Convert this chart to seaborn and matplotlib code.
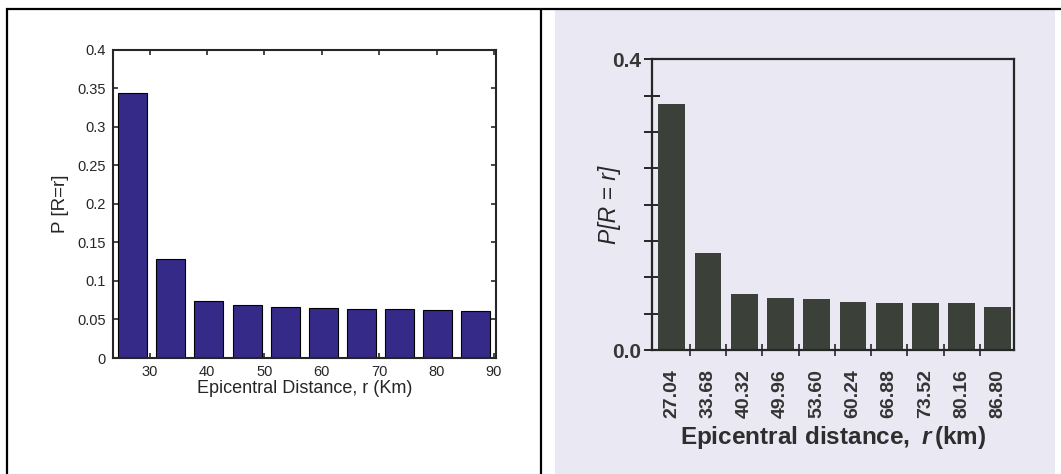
import matplotlib
matplotlib.use("Agg")
import matplotlib.pyplot as plt
from matplotlib.lines import Line2D
from matplotlib.patches import Rectangle
from matplotlib.ticker import FixedLocator, FixedFormatter
import seaborn as sns

# Left panel: computed probabilities at each epicentral distance
left_r = [27.04, 33.68, 40.32, 46.96, 53.60, 60.24, 66.88, 73.52, 80.16, 86.80]
left_p = [0.3436, 0.128, 0.0737, 0.0690, 0.0664, 0.0647, 0.0638, 0.0629, 0.0621, 0.0612]
left_xticks = [30, 40, 50, 60, 70, 80, 90]
left_yticks = [0, 0.05, 0.1, 0.15, 0.2, 0.25, 0.3, 0.35, 0.4]
left_yticklabels = ["0", "0.05", "0.1", "0.15", "0.2", "0.25", "0.3", "0.35", "0.4"]

# Right panel: published distribution (categorical distances)
right_labels = ["27.04", "33.68", "40.32", "49.96", "53.60",
                "60.24", "66.88", "73.52", "80.16", "86.80"]
right_p = [0.3385, 0.133, 0.077, 0.072, 0.0706, 0.066, 0.064, 0.064, 0.064, 0.0596]
right_yticks = [0.0, 0.4]
right_yticklabels = ["0.0", "0.4"]
right_minor_y = [0.05, 0.10, 0.15, 0.20, 0.25, 0.30, 0.35]

sns.set_theme(style="white")
plt.rcParams["font.family"] = ["Liberation Sans", "DejaVu Sans"]
plt.rcParams["mathtext.fontset"] = "custom"
plt.rcParams["mathtext.rm"] = "Liberation Sans:bold"
plt.rcParams["mathtext.it"] = "Liberation Sans:italic:bold"
plt.rcParams["mathtext.bf"] = "Liberation Sans:bold"

W, H = 1061, 474
fig = plt.figure(figsize=(W / 100, H / 100), dpi=100)
fig.patch.set_facecolor("white")


def px_axes(left, top, right, bottom):
    return fig.add_axes([left / W, 1 - bottom / H, (right - left) / W, (bottom - top) / H])


# scanned page background for the right panel
fig.add_artist(Rectangle((555 / W, 0), 500 / W, 1 - 9.5 / H,
                         transform=fig.transFigure, facecolor="#e9e8f3",
                         edgecolor="none", zorder=0))

# table rules around the two panels
rule = dict(color="black", lw=1.6, transform=fig.transFigure, solid_capstyle="butt")
fig.add_artist(Line2D([6 / W, 1], [1 - 9 / H, 1 - 9 / H], **rule))
fig.add_artist(Line2D([7 / W, 7 / W], [0, 1 - 8 / H], **rule))
fig.add_artist(Line2D([541 / W, 541 / W], [0, 1 - 8 / H], **rule))

# ---------------- left panel ----------------
ax1 = px_axes(113, 49.5, 496, 358)
sns.barplot(x=left_r, y=left_p, native_scale=True, width=0.76, color="#352A87",
            saturation=1, edgecolor="black", linewidth=0.8, ax=ax1)
ax1.set_xlim(23.6, 90.35)
ax1.set_ylim(0, 0.4)
ax1.set_facecolor("white")
ax1.xaxis.set_major_locator(FixedLocator(left_xticks))
ax1.xaxis.set_major_formatter(FixedFormatter([str(v) for v in left_xticks]))
ax1.yaxis.set_major_locator(FixedLocator(left_yticks))
ax1.yaxis.set_major_formatter(FixedFormatter(left_yticklabels))
ax1.tick_params(axis="both", direction="in", length=3.5, width=1.2, color="#262626",
                labelsize=10.5, labelcolor="#262626", top=True, right=True,
                bottom=True, left=True, pad=5)
for s in ax1.spines.values():
    s.set_visible(True)
    s.set_color("#262626")
    s.set_linewidth(1.5)
ax1.set_xlabel("Epicentral Distance, r (Km)", fontsize=13, color="#262626", labelpad=1)
ax1.set_ylabel("P [R=r]", fontsize=13.5, color="#262626", labelpad=6)

# ---------------- right panel ----------------
ax2 = px_axes(651.7, 59.3, 1014, 350)
sns.barplot(x=right_labels, y=right_p, order=right_labels, width=0.74,
            color="#3b4038", saturation=1, linewidth=0, ax=ax2)
ax2.set_xlim(-0.555, 9.445)
ax2.set_ylim(0, 0.4)
ax2.set_facecolor("#e9e8f3")
ink = "#262626"
ax2.yaxis.set_major_locator(FixedLocator(right_yticks))
ax2.yaxis.set_major_formatter(FixedFormatter(right_yticklabels))
ax2.yaxis.set_minor_locator(FixedLocator(right_minor_y))
ax2.xaxis.set_minor_locator(FixedLocator([i + 0.5 for i in range(len(right_labels))]))
ax2.tick_params(axis="y", which="major", direction="inout", length=11, width=1.4,
                color=ink, labelsize=15, labelcolor="#383838", left=True, pad=2)
ax2.tick_params(axis="y", which="minor", direction="inout", length=12, width=1.4,
                color=ink, left=True)
ax2.tick_params(axis="x", which="major", length=0, labelsize=14,
                labelcolor="#333333", labelrotation=90, pad=14, bottom=True)
ax2.tick_params(axis="x", which="minor", direction="inout", length=9, width=1.2,
                color=ink, bottom=True)
for lbl in ax2.get_xticklabels() + ax2.get_yticklabels():
    lbl.set_fontweight("bold")
for s in ax2.spines.values():
    s.set_visible(True)
    s.set_color(ink)
    s.set_linewidth(1.6)
ax2.set_xlabel(r"$\mathrm{Epicentral\ distance,}\ \mathit{r}\,\mathrm{(km)}$",
               fontsize=17.5, color="#2e2e2e", labelpad=4)
ax2.set_ylabel("P[R = r]", fontsize=16.5, fontstyle="italic", color="#262626",
               labelpad=-6)

fig.savefig("out.png", dpi=100, facecolor="white")
